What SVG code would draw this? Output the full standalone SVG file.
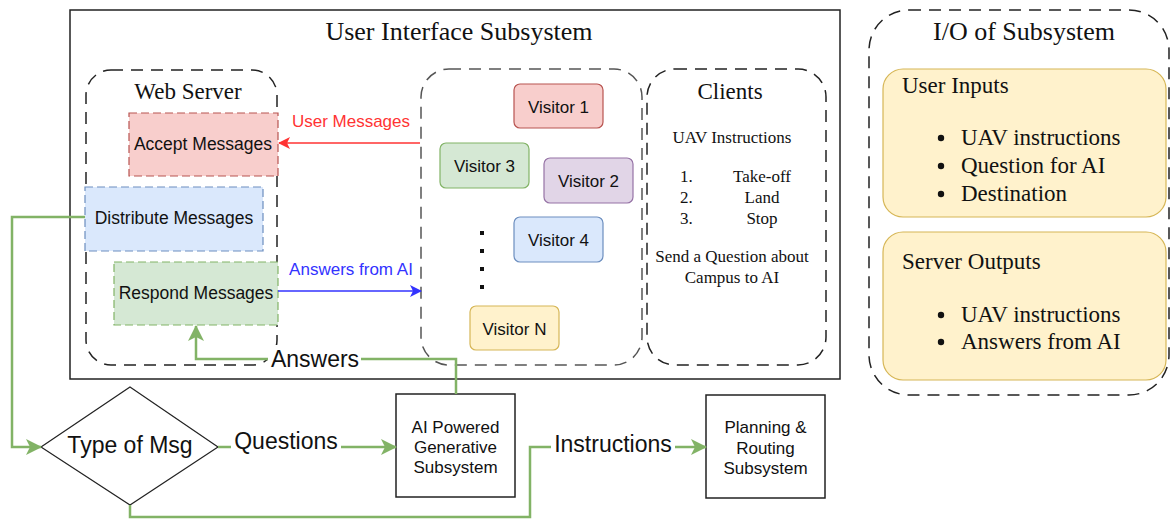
<svg xmlns="http://www.w3.org/2000/svg" width="1172" height="521" viewBox="0 0 1172 521">
  <style>
    .serif { font-family: "Liberation Serif", "Times New Roman", serif; fill: #111; }
    .sans { font-family: "Liberation Sans", Arial, sans-serif; fill: #111; }
    .frame { fill: #fff; stroke: #222; stroke-width: 1.5; }
    .group { fill: none; stroke: #222; stroke-width: 1.5; stroke-dasharray: 12 8; }
    .groupg { fill: none; stroke: #555; stroke-width: 1.5; stroke-dasharray: 12 8; }
    .red { fill: #f8cecc; stroke: #b85450; stroke-width: 1.2; }
    .blue { fill: #dae8fc; stroke: #6c8ebf; stroke-width: 1.2; }
    .green { fill: #d5e8d4; stroke: #82b366; stroke-width: 1.2; }
    .purple { fill: #e1d5e7; stroke: #9673a6; stroke-width: 1.2; }
    .yellow { fill: #fff2cc; stroke: #d6b656; stroke-width: 1.2; }
    .dash { stroke-dasharray: 8 4; }
    .flow { fill: none; stroke: #82b366; stroke-width: 2.5; }
    .lbl { fill: #fff; stroke: none; }
  </style>
  <defs>
    <marker id="arrowGreen" viewBox="0 0 16 16" refX="15" refY="8" markerWidth="16" markerHeight="16" markerUnits="userSpaceOnUse" orient="auto">
      <path d="M0,0 L16,8 L0,16 L4,8 Z" fill="#82b366"/>
    </marker>
    <marker id="arrowRed" viewBox="0 0 12 12" refX="11" refY="6" markerWidth="12" markerHeight="12" markerUnits="userSpaceOnUse" orient="auto">
      <path d="M0,0 L12,6 L0,12 L3,6 Z" fill="#ff3333"/>
    </marker>
    <marker id="arrowBlue" viewBox="0 0 12 12" refX="11" refY="6" markerWidth="12" markerHeight="12" markerUnits="userSpaceOnUse" orient="auto">
      <path d="M0,0 L12,6 L0,12 L3,6 Z" fill="#3333ff"/>
    </marker>
  </defs>

  <rect width="1172" height="521" fill="#fff"/>

  <!-- User interface subsystem frame -->
  <g id="ui-subsystem">
    <rect class="frame" x="70" y="10" width="770" height="369"/>
    <text class="serif" x="459" y="40" font-size="26" text-anchor="middle">User Interface Subsystem</text>
  </g>

  <g id="web-server">
    <rect class="group" x="86" y="70" width="191" height="295" rx="25"/>
    <text class="serif" x="188" y="99" font-size="23" text-anchor="middle">Web Server</text>
  </g>

  <g id="accept-messages">
    <rect class="red dash" x="129" y="113" width="149" height="63"/>
    <text class="sans" x="203" y="150" font-size="17.5" text-anchor="middle">Accept Messages</text>
  </g>
  <g id="distribute-messages">
    <rect class="blue dash" x="85" y="187" width="178" height="64"/>
    <text class="sans" x="174" y="224" font-size="17.5" text-anchor="middle">Distribute Messages</text>
  </g>
  <g id="respond-messages">
    <rect class="green dash" x="114" y="262" width="164" height="63"/>
    <text class="sans" x="196" y="299" font-size="17.5" text-anchor="middle">Respond Messages</text>
  </g>

  <g id="visitors">
    <rect class="groupg" x="421" y="69" width="221" height="296" rx="28"/>
  </g>
  <g id="visitor-1">
    <rect class="red" x="514" y="84" width="89" height="44" rx="6"/>
    <text class="sans" x="558.5" y="113" font-size="17" text-anchor="middle">Visitor 1</text>
  </g>
  <g id="visitor-3">
    <rect class="green" x="440" y="143" width="89" height="45" rx="6"/>
    <text class="sans" x="484.5" y="172" font-size="17" text-anchor="middle">Visitor 3</text>
  </g>
  <g id="visitor-2">
    <rect class="purple" x="544" y="158" width="89" height="45" rx="6"/>
    <text class="sans" x="588.5" y="187" font-size="17" text-anchor="middle">Visitor 2</text>
  </g>
  <g id="visitor-4">
    <rect class="blue" x="514" y="217" width="89" height="45" rx="6"/>
    <text class="sans" x="558.5" y="246" font-size="17" text-anchor="middle">Visitor 4</text>
  </g>
  <g id="visitor-dots" fill="#111">
    <rect x="480" y="231" width="4" height="4"/>
    <rect x="480" y="249" width="4" height="4"/>
    <rect x="480" y="267" width="4" height="4"/>
    <rect x="480" y="285" width="4" height="4"/>
  </g>
  <g id="visitor-n">
    <rect class="yellow" x="470" y="306" width="89" height="44" rx="6"/>
    <text class="sans" x="514.5" y="335" font-size="17" text-anchor="middle">Visitor N</text>
  </g>

  <g id="clients">
    <rect class="group" x="647" y="69" width="179" height="296" rx="28"/>
    <text class="serif" x="730" y="99" font-size="23" text-anchor="middle">Clients</text>
    <text class="serif" x="732" y="143" font-size="17" text-anchor="middle">UAV Instructions</text>
    <text class="serif" x="680" y="182" font-size="17">1.</text>
    <text class="serif" x="762" y="182" font-size="17" text-anchor="middle">Take-off</text>
    <text class="serif" x="680" y="203" font-size="17">2.</text>
    <text class="serif" x="762" y="203" font-size="17" text-anchor="middle">Land</text>
    <text class="serif" x="680" y="224" font-size="17">3.</text>
    <text class="serif" x="762" y="224" font-size="17" text-anchor="middle">Stop</text>
    <text class="serif" x="732" y="262" font-size="17" text-anchor="middle">Send a Question about</text>
    <text class="serif" x="732" y="283" font-size="17" text-anchor="middle">Campus to AI</text>
  </g>

  <!-- I/O summary -->
  <g id="io-subsystem">
    <rect class="group" x="869" y="10" width="300" height="385" rx="40"/>
    <text class="serif" x="1024" y="40" font-size="26" text-anchor="middle">I/O of Subsystem</text>
  </g>
  <g id="user-inputs">
    <rect class="yellow" x="883" y="69" width="283" height="148" rx="20"/>
    <text class="serif" x="902" y="93" font-size="23">User Inputs</text>
    <circle cx="941" cy="138" r="3.2" fill="#111"/>
    <text class="serif" x="961" y="145" font-size="23">UAV instructions</text>
    <circle cx="941" cy="166" r="3.2" fill="#111"/>
    <text class="serif" x="961" y="173" font-size="23">Question for AI</text>
    <circle cx="941" cy="194" r="3.2" fill="#111"/>
    <text class="serif" x="961" y="201" font-size="23">Destination</text>
  </g>
  <g id="server-outputs">
    <rect class="yellow" x="883" y="232" width="283" height="148" rx="20"/>
    <text class="serif" x="902" y="269" font-size="23">Server Outputs</text>
    <circle cx="941" cy="315" r="3.2" fill="#111"/>
    <text class="serif" x="961" y="322" font-size="23">UAV instructions</text>
    <circle cx="941" cy="342" r="3.2" fill="#111"/>
    <text class="serif" x="961" y="349" font-size="23">Answers from AI</text>
  </g>

  <!-- Routing stage -->
  <g id="type-of-msg">
    <polygon points="130,387 218,447 130,505 41,447" fill="#fff" stroke="#222" stroke-width="1.2"/>
    <text class="sans" x="130" y="453" font-size="23" text-anchor="middle">Type of Msg</text>
  </g>
  <g id="ai-subsystem">
    <rect class="frame" x="396" y="394" width="119" height="103"/>
    <text class="sans" x="455.5" y="433" font-size="17" text-anchor="middle">AI Powered</text>
    <text class="sans" x="455.5" y="453" font-size="17" text-anchor="middle">Generative</text>
    <text class="sans" x="455.5" y="473" font-size="17" text-anchor="middle">Subsystem</text>
  </g>
  <g id="planning-subsystem">
    <rect class="frame" x="706" y="395" width="119" height="103"/>
    <text class="sans" x="765.5" y="433" font-size="17" text-anchor="middle">Planning &amp;</text>
    <text class="sans" x="765.5" y="454" font-size="17" text-anchor="middle">Routing</text>
    <text class="sans" x="765.5" y="474" font-size="17" text-anchor="middle">Subsystem</text>
  </g>

  <!-- Connectors -->
  <g id="connectors">
    <line x1="420" y1="143" x2="279" y2="143" stroke="#ff3333" stroke-width="1.5" marker-end="url(#arrowRed)"/>
    <text class="sans" x="351" y="127" font-size="17" text-anchor="middle" style="fill:#ff3333">User Messages</text>

    <line x1="278" y1="291" x2="421" y2="291" stroke="#3333ff" stroke-width="1.5" marker-end="url(#arrowBlue)"/>
    <text class="sans" x="351" y="275" font-size="17" text-anchor="middle" style="fill:#3333ff">Answers from AI</text>

    <polyline class="flow" points="85,217 12,217 12,447 41,447" marker-end="url(#arrowGreen)"/>

    <line class="flow" x1="218" y1="447" x2="396" y2="447" marker-end="url(#arrowGreen)"/>
    <rect class="lbl" x="231" y="430" width="110" height="26"/>
    <text class="sans" x="286" y="449" font-size="23" text-anchor="middle">Questions</text>

    <polyline class="flow" points="456,394 456,359 196,359 196,326" marker-end="url(#arrowGreen)"/>
    <rect class="lbl" x="268" y="345" width="93" height="27"/>
    <text class="sans" x="315" y="367" font-size="23" text-anchor="middle">Answers</text>

    <polyline class="flow" points="130,505 130,517 530,517 530,447 706,447" marker-end="url(#arrowGreen)"/>
    <rect class="lbl" x="551" y="432" width="124" height="27"/>
    <text class="sans" x="613" y="452" font-size="23" text-anchor="middle">Instructions</text>
  </g>
</svg>
